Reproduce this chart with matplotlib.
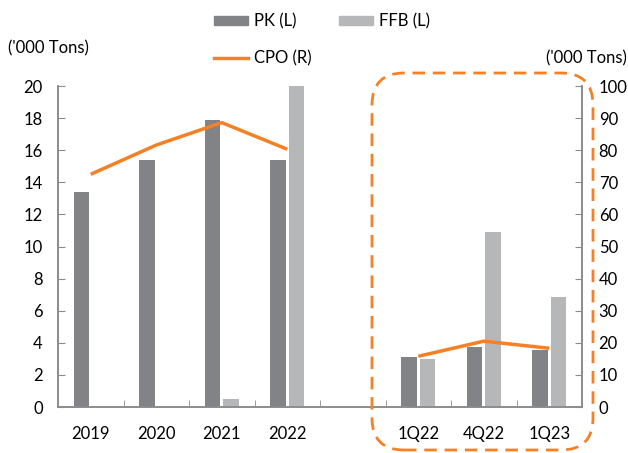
import numpy as np
import matplotlib
matplotlib.use("Agg")
import matplotlib.pyplot as plt
from matplotlib.patches import FancyBboxPatch
from matplotlib.lines import Line2D

plt.rcParams["font.family"] = ["Lato", "DejaVu Sans"]

CATEGORIES = ["2019", "2020", "2021", "2022", "", "1Q22", "4Q22", "1Q23"]
PK  = [13.4, 15.4, 17.9, 15.4, np.nan, 3.1, 3.75, 3.55]
FFB = [0.0, 0.0, 0.5, 20.0, np.nan, 3.0, 10.9, 6.85]
CPO = [72.5, 81.6, 88.6, 80.3, np.nan, 15.8, 20.5, 18.3]

PK_COLOR  = "#818386"
FFB_COLOR = "#B6B7B9"
CPO_COLOR = "#F58025"
AXIS_GREY = "#8C8C8C"

fig = plt.figure(figsize=(6.28, 4.53), dpi=100)
ax = fig.add_axes([58 / 628, 1 - 407 / 453, 524 / 628, 321 / 453])
ax2 = ax.twinx()

x = np.arange(len(CATEGORIES))
ax.bar(x - 0.14, PK, width=0.24, color=PK_COLOR, zorder=2)
ax.bar(x + 0.14, FFB, width=0.24, color=FFB_COLOR, zorder=2)
ax2.plot(x, CPO, color=CPO_COLOR, linewidth=2.5, solid_capstyle="butt")

ax.set_xlim(-0.5, len(CATEGORIES) - 0.5)
ax.set_ylim(0, 20)
ax2.set_ylim(0, 100)
ax.set_yticks(np.arange(0, 21, 2))
ax2.set_yticks(np.arange(0, 101, 10))

ax.set_xticks(x)
ax.set_xticklabels(CATEGORIES)
ax.set_xticks(np.arange(-0.5, len(CATEGORIES), 1), minor=True)
ax.tick_params(axis="x", which="major", length=0, pad=14, labelsize=12)
ax.tick_params(axis="x", which="minor", direction="in", length=5, color=AXIS_GREY)
ax.tick_params(axis="y", direction="in", length=5, color=AXIS_GREY, pad=11, labelsize=12)
ax2.tick_params(axis="y", direction="in", length=5, color=AXIS_GREY, pad=12, labelsize=12)

for a in (ax, ax2):
    a.spines["top"].set_visible(False)
    for s in ("left", "right", "bottom"):
        a.spines[s].set_color(AXIS_GREY)
        a.spines[s].set_linewidth(1.2)

fig.text(8 / 628, 1 - 48 / 453, "('000 Tons)", fontsize=12, va="center", ha="left")
fig.text(627 / 628, 1 - 58 / 453, "('000 Tons)", fontsize=12, va="center", ha="right")

handles = [
    plt.Rectangle((0, 0), 1, 1, color=PK_COLOR),
    Line2D([], [], color=CPO_COLOR, linewidth=2.5),
    plt.Rectangle((0, 0), 1, 1, color=FFB_COLOR),
]
labels = ["PK (L)", "CPO (R)", "FFB (L)"]
fig.legend(handles, labels, ncol=2, frameon=False, fontsize=12,
           loc="center", bbox_to_anchor=(322 / 628, 1 - 40 / 453),
           handlelength=2.0, handleheight=0.5, handletextpad=0.35,
           columnspacing=1.7, labelspacing=1.25)

# dashed rounded frame around the quarterly block
frame = FancyBboxPatch((3.72, 0.03), 2.21, 3.77,
                       boxstyle="round,pad=0,rounding_size=0.32",
                       transform=fig.dpi_scale_trans, fill=False,
                       edgecolor=CPO_COLOR, linewidth=2.0,
                       linestyle=(0, (4.5, 2.8)), clip_on=False)
fig.patches.append(frame)

fig.savefig("out.png", dpi=100)
